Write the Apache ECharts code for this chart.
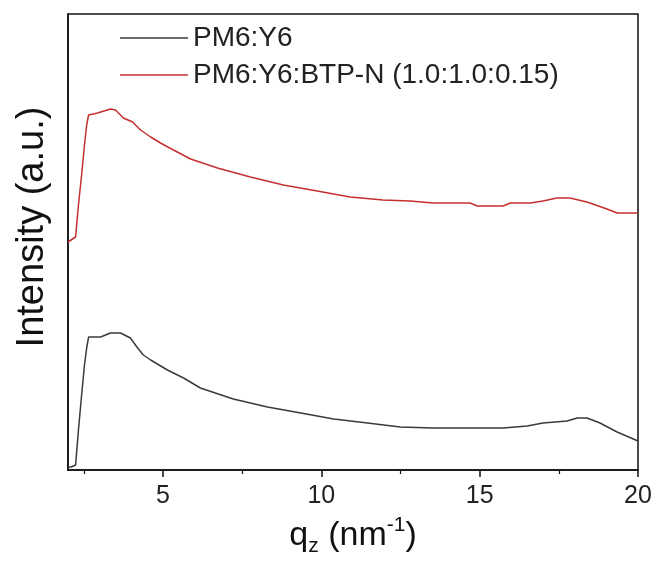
<!DOCTYPE html>
<html>
<head>
<meta charset="utf-8">
<script src="https://cdn.jsdelivr.net/npm/echarts@6/dist/echarts.min.js"></script>
<style>html,body{margin:0;padding:0;background:#fff}#c{width:657px;height:563px}</style>
</head>
<body>
<div id="c"></div>
<script>
// ---- data ----
const seriesNames = ['PM6:Y6', 'PM6:Y6:BTP-N (1.0:1.0:0.15)'];
const xTickLabels = [5, 10, 15, 20];
const xMinorTicks = [2.5, 7.5, 12.5, 17.5];

const qBlack = [2.0, 2.1, 2.24, 2.33, 2.43, 2.52, 2.59, 2.65, 3.03, 3.34, 3.66, 3.97, 4.2, 4.38, 4.61, 5.14, 5.65, 6.18, 7.22, 8.30, 9.35, 10.39, 11.46, 12.49, 13.53, 15.01, 15.74, 16.50, 17.0, 17.76, 18.08, 18.39, 18.80, 19.34, 20.0];
const iBlack = [3, 3, 5, 40, 75, 105, 122, 133, 133, 137, 137, 132, 122, 115, 110, 100, 92, 82, 71, 63, 57, 51, 47, 43, 42, 42, 42, 44, 47, 49, 52, 52, 47, 38, 29];

const qRed = [2.0, 2.24, 2.33, 2.43, 2.52, 2.59, 2.65, 2.93, 3.34, 3.50, 3.75, 4.04, 4.29, 4.61, 4.92, 5.33, 5.87, 6.72, 7.76, 8.80, 9.87, 10.91, 11.95, 12.80, 13.53, 14.70, 14.92, 15.74, 15.97, 16.60, 17.0, 17.44, 17.85, 18.39, 19.02, 19.34, 20.0];
const iRed = [228, 233, 265, 295, 325, 345, 355, 357, 361, 360, 352, 348, 340, 333, 327, 320, 311, 302, 293, 285, 279, 273, 270, 269, 267, 267, 264, 264, 267, 267, 269, 272, 272, 268, 261, 257, 257];

const pair = (xs, ys) => xs.map((x, i) => [x, ys[i]]);
const FONT = 'Liberation Sans, Arial, sans-serif';

const chart = echarts.init(document.getElementById('c'), null, {renderer: 'canvas'});
chart.setOption({
  animation: false,
  backgroundColor: '#fff',
  grid: {left: 68, right: 19, top: 14, bottom: 93, show: true, borderColor: '#111', borderWidth: 1.5, backgroundColor: 'transparent'},
  legend: {
    data: seriesNames,
    orient: 'vertical',
    left: 120, top: 24,
    padding: 0,
    icon: 'rect',
    itemWidth: 68, itemHeight: 1.5, itemGap: 9,
    textStyle: {fontFamily: FONT, fontSize: 28, color: '#222', lineHeight: 28}
  },
  xAxis: [{
    type: 'value', min: 2, max: 20,
    name: '{a|q}{s|z}{a| (nm}{p|-1}{a|)}',
    nameLocation: 'middle', nameGap: 45,
    nameTextStyle: {
      rich: {
        a: {fontFamily: FONT, fontSize: 34, color: '#111', lineHeight: 42},
        s: {fontFamily: FONT, fontSize: 21, color: '#111', lineHeight: 18, verticalAlign: 'bottom'},
        p: {fontFamily: FONT, fontSize: 21, color: '#111', lineHeight: 18, verticalAlign: 'top'}
      }
    },
    axisLine: {show: true, onZero: false, lineStyle: {color: '#111', width: 1.5}},
    axisTick: {show: true, inside: false, length: 7, customValues: xTickLabels, lineStyle: {color: '#111', width: 1.5}},
    axisLabel: {show: true, customValues: xTickLabels, margin: 14, fontFamily: FONT, fontSize: 25, color: '#222'},
    splitLine: {show: false}
  }, {
    type: 'value', min: 2, max: 20, position: 'bottom',
    axisLine: {show: false},
    axisTick: {show: true, inside: false, length: 4, customValues: xMinorTicks, lineStyle: {color: '#111', width: 1.2}},
    axisLabel: {show: false},
    splitLine: {show: false}
  }],
  yAxis: {
    type: 'value', min: 0, max: 456,
    name: 'Intensity (a.u.)',
    nameLocation: 'middle', nameGap: 16,
    nameTextStyle: {fontFamily: FONT, fontSize: 38, color: '#111', padding: [0, 0, 0, 30]},
    axisLine: {show: true, onZero: false, lineStyle: {color: '#111', width: 1.5}},
    axisTick: {show: false},
    axisLabel: {show: false},
    splitLine: {show: false}
  },
  series: [{
    name: seriesNames[0], type: 'line', xAxisIndex: 0,
    data: pair(qBlack, iBlack),
    showSymbol: false, symbol: 'none',
    lineStyle: {color: '#3a3a3a', width: 1.5},
    itemStyle: {color: '#3a3a3a'}
  }, {
    name: seriesNames[1], type: 'line', xAxisIndex: 0,
    data: pair(qRed, iRed),
    showSymbol: false, symbol: 'none',
    lineStyle: {color: '#c4302f', width: 1.5},
    itemStyle: {color: '#c4302f'}
  }]
});
</script>
</body>
</html>
